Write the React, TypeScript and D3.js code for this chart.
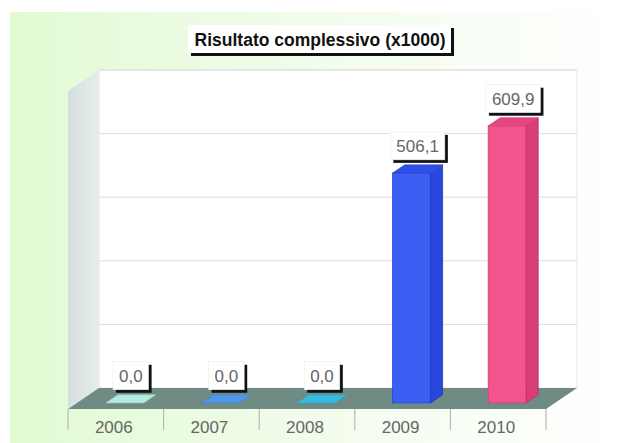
import React from "react";
import * as d3 from "d3";

const categories = ["2006", "2007", "2008", "2009", "2010"];
const values = [0, 0, 0, 506.1, 609.9];
const gridTicks = [0, 140, 280, 420, 560, 700];
const title = "Risultato complessivo (x1000)";
const barColors = [
  { front: "#b4eadf", side: "#9dd9cd", top: "#b4eadf" },
  { front: "#4f97e6", side: "#3f84d4", top: "#4f97e6" },
  { front: "#35bce0", side: "#26a6cc", top: "#35bce0" },
  { front: "#3c5ef2", side: "#2a47dc", top: "#2f4fe6" },
  { front: "#f2548e", side: "#d93e78", top: "#e64680" },
];

const W = 627;
const H = 443;
const frontLeft = 68;
const frontRight = 546;
const frontY = 409;
const depthDx = 31;
const depthDy = -21;
const backY = frontY + depthDy;
const topY = 70;
const f0 = 0.29;
const barDepth = 12;
const barW = 38;

function textWidth(s: string, size: number, bold = false) {
  let w = 0;
  for (const ch of s) {
    if (/[0-9]/.test(ch)) w += 0.556;
    else if (ch === "," || ch === "." || ch === " ") w += 0.278;
    else w += bold ? 0.6 : 0.55;
  }
  return w * size;
}

function fmt(v: number) {
  return v.toFixed(1).replace(".", ",");
}

export default function App() {
  const x = d3.scaleBand<string>().domain(categories).range([frontLeft, frontRight]).padding(0);
  const yBack = d3.scaleLinear().domain([0, 700]).range([backY, topY]);
  const hScale = d3.scaleLinear().domain([0, 700]).range([0, backY - topY]);

  const bx0 = depthDx * f0;
  const by0 = frontY + depthDy * f0;
  const sdx = barDepth;
  const sdy = (depthDy * barDepth) / depthDx;

  const boundaries = categories.map((c) => x(c)!).concat([frontRight]);

  return (
    <svg width={W} height={H} style={{ position: "absolute", left: 0, top: 0 }} fontFamily="Liberation Sans, Arial, sans-serif">
      <defs>
        <linearGradient id="bg" x1="0" y1="0" x2="1" y2="0">
          <stop offset="0" stopColor="#e2fad3" />
          <stop offset="0.5" stopColor="#f2fcec" />
          <stop offset="1" stopColor="#ffffff" />
        </linearGradient>
        <linearGradient id="side" x1="0" y1="0" x2="1" y2="0">
          <stop offset="0" stopColor="#d6dfdf" />
          <stop offset="1" stopColor="#e6ecec" />
        </linearGradient>
      </defs>
      <rect x={0} y={0} width={W} height={H} fill="#ffffff" />
      <rect x={10} y={12} width={W - 10} height={H - 12} fill="url(#bg)" />

      {/* back wall */}
      <rect x={frontLeft + depthDx} y={topY} width={frontRight - frontLeft} height={backY - topY} fill="#ffffff" stroke="#e4e8e4" strokeWidth={1} />
      {/* side wall */}
      <polygon
        points={`${frontLeft},${topY - depthDy} ${frontLeft + depthDx},${topY} ${frontLeft + depthDx},${backY} ${frontLeft},${frontY}`}
        fill="url(#side)"
      />
      {/* gridlines */}
      {gridTicks.slice(1).map((t) => (
        <line key={t} x1={frontLeft + depthDx} x2={frontRight + depthDx} y1={yBack(t)} y2={yBack(t)} stroke="#dcdcdc" strokeWidth={1} />
      ))}
      {/* floor */}
      <polygon
        points={`${frontLeft},${frontY} ${frontRight},${frontY} ${frontRight + depthDx},${backY} ${frontLeft + depthDx},${backY}`}
        fill="#6f8b83"
      />
      {/* ticks */}
      {boundaries.map((b, i) => (
        <line key={i} x1={b} x2={b} y1={frontY} y2={frontY + 21} stroke="#aab0aa" strokeWidth={1} />
      ))}
      {categories.map((c) => (
        <text key={c} x={x(c)! + x.bandwidth() / 2 - 2} y={433} textAnchor="middle" fontSize={17} fill="#666">
          {c}
        </text>
      ))}

      {/* bars */}
      {categories.map((c, i) => {
        const h = hScale(values[i]);
        const xl = x(c)! + x.bandwidth() / 2 + bx0 - barW / 2;
        const xr = xl + barW;
        const yb = by0;
        const yt = by0 - h;
        const col = barColors[i];
        return (
          <g key={c}>
            {h > 0 && (
              <>
                <rect x={xl} y={yt} width={barW} height={h} fill={col.front} stroke={col.side} strokeWidth={0.8} />
                <polygon
                  points={`${xr},${yt} ${xr + sdx},${yt + sdy} ${xr + sdx},${yb + sdy} ${xr},${yb}`}
                  fill={col.side}
                  stroke={d3.color(col.side)!.darker(0.5).toString()}
                  strokeWidth={0.8}
                />
              </>
            )}
            <polygon
              points={`${xl},${yt} ${xr},${yt} ${xr + sdx},${yt + sdy} ${xl + sdx},${yt + sdy}`}
              fill={col.top}
              stroke={d3.color(col.top)!.darker(0.4).toString()}
              strokeWidth={0.6}
            />
          </g>
        );
      })}

      {/* value labels */}
      {categories.map((c, i) => {
        const h = hScale(values[i]);
        const cx = x(c)! + x.bandwidth() / 2 + bx0 + sdx / 2;
        const backTop = by0 - h + sdy;
        const label = fmt(values[i]);
        const tw = textWidth(label, 17);
        const bw = tw + 12;
        const bh = 28;
        const bottom = backTop - 5;
        const bxL = cx - bw / 2;
        return (
          <g key={c}>
            <rect x={bxL + 3} y={bottom - bh + 3} width={bw} height={bh} fill="#111" />
            <rect x={bxL} y={bottom - bh} width={bw} height={bh} fill="#ffffff" stroke="#e8e8e8" strokeWidth={0.5} />
            <text x={cx} y={bottom - 8} textAnchor="middle" fontSize={17} fill="#666">
              {label}
            </text>
          </g>
        );
      })}

      {/* title */}
      <g>
        <rect x={191} y={28} width={263} height={28} fill="#111" />
        <rect x={188} y={25} width={263} height={28} fill="#ffffff" />
        <text x={320} y={46} textAnchor="middle" fontSize={17.5} fontWeight="bold" fill="#111">
          {title}
        </text>
      </g>
    </svg>
  );
}
